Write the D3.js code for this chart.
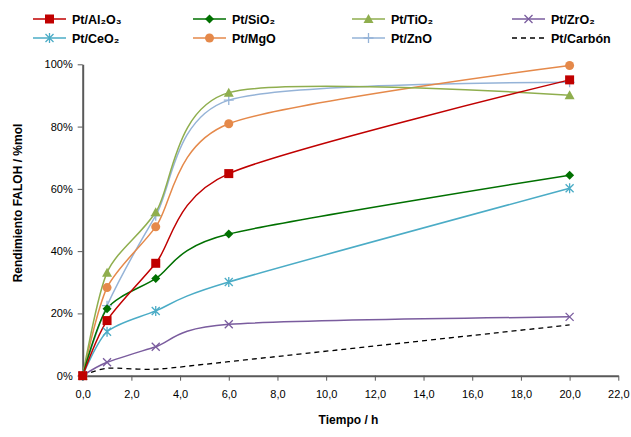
<!DOCTYPE html>
<html>
<head>
<meta charset="utf-8">
<script src="https://cdn.jsdelivr.net/npm/d3@7"></script>
<style>
  body { margin: 0; background: #fff; }
  svg { display: block; font-family: "Liberation Sans", Arial, sans-serif; }
  .axis path, .axis line { stroke: #595959; }
  .axis text { font-size: 11px; fill: #000; }
</style>
</head>
<body>
<div id="chart"></div>
<script>
// --- Data ---
const tiempo = [0, 1, 3, 6, 20];
const names = ["Pt/Al₂O₃", "Pt/SiO₂", "Pt/TiO₂", "Pt/ZrO₂", "Pt/CeO₂", "Pt/MgO", "Pt/ZnO", "Pt/Carbón"];
const al2o3 = [0, 17.7, 36.1, 64.9, 95.0];
const sio2 = [0, 21.5, 31.2, 45.5, 64.4];
const tio2 = [0, 33.1, 52.5, 90.9, 90.1];
const zro2 = [0, 4.3, 9.3, 16.5, 18.9];
const ceo2 = [0, 14.1, 20.8, 30.1, 60.2];
const mgo = [0, 28.3, 47.8, 80.9, 99.6];
const zno = [0, 22.5, 51.4, 88.5, 94.2];
const carbon = [0, 2.4, 2.1, 4.5, 16.3];
const xTicks = d3.range(0, 22.01, 2);
const yTicks = [0, 20, 40, 60, 80, 100];

const colors = ["#C00000", "#007000", "#8FAE4E", "#7A5C9E", "#4BACC6", "#E5894A", "#95B3D7", "#000000"];
const markers = ["square", "diamond", "triangle", "x", "star", "circle", "plus", "none"];
const allValues = [al2o3, sio2, tio2, zro2, ceo2, mgo, zno, carbon];

const series = names.map((n, i) => ({
    name: n, color: colors[i], marker: markers[i],
    points: tiempo.map((t, j) => ({ x: t, y: allValues[i][j] }))
}));

// --- Layout ---
const W = 631, H = 437;
const plot = { left: 82.7, right: 618.3, top: 64.3, bottom: 375.7 };

const svg = d3.select("#chart").append("svg").attr("width", W).attr("height", H);

const x = d3.scaleLinear().domain([0, 22]).range([plot.left, plot.right]);
const y = d3.scaleLinear().domain([0, 100]).range([plot.bottom, plot.top]);

const xAxis = svg.append("g").attr("class", "axis")
    .attr("transform", `translate(0,${plot.bottom})`)
    .call(d3.axisBottom(x).tickValues(xTicks).tickSize(5).tickSizeOuter(0)
        .tickFormat(d => d3.format(".1f")(d).replace(".", ",")));
xAxis.select(".domain").attr("stroke-width", 2);
xAxis.selectAll(".tick text").attr("y", 11).attr("dy", "1.05em");

const yAxis = svg.append("g").attr("class", "axis")
    .attr("transform", `translate(${plot.left},0)`)
    .call(d3.axisLeft(y).tickValues(yTicks).tickSize(5).tickSizeOuter(0).tickFormat(d => d + "%"));
yAxis.select(".domain").attr("stroke-width", 2);
yAxis.selectAll(".tick text").attr("x", -10);

// axis titles
svg.append("text").attr("x", (plot.left + plot.right) / 2 - 2).attr("y", 424)
    .attr("text-anchor", "middle").style("font-size", "12px").style("font-weight", "bold")
    .text("Tiempo / h");
svg.append("text").attr("transform", "translate(21.5,203) rotate(-90)")
    .attr("text-anchor", "middle").style("font-size", "12px").style("font-weight", "bold")
    .text("Rendimiento FALOH / %mol");

// --- Lines ---
const line = d3.line().x(d => x(d.x)).y(d => y(d.y)).curve(d3.curveCardinal.tension(0.2));

const gLines = svg.append("g");
series.slice().reverse().forEach(s => {
    gLines.append("path").attr("d", line(s.points)).attr("fill", "none")
        .attr("stroke", s.color).attr("stroke-width", s.marker === "none" ? 1.3 : 1.5)
        .attr("stroke-dasharray", s.marker === "none" ? "5,4" : null);
});

function drawMarker(g, type, color, cx, cy) {
    if (type === "square") {
        g.append("rect").attr("x", cx - 4.5).attr("y", cy - 4.5).attr("width", 9).attr("height", 9).attr("fill", color);
    } else if (type === "diamond") {
        g.append("path").attr("d", `M${cx},${cy - 4.5}L${cx + 4.5},${cy}L${cx},${cy + 4.5}L${cx - 4.5},${cy}Z`).attr("fill", color);
    } else if (type === "triangle") {
        g.append("path").attr("d", `M${cx},${cy - 5}L${cx + 5},${cy + 4}L${cx - 5},${cy + 4}Z`).attr("fill", color);
    } else if (type === "circle") {
        g.append("circle").attr("cx", cx).attr("cy", cy).attr("r", 4.5).attr("fill", color);
    } else if (type === "x") {
        g.append("path").attr("d", `M${cx - 4},${cy - 4}L${cx + 4},${cy + 4}M${cx - 4},${cy + 4}L${cx + 4},${cy - 4}`)
            .attr("stroke", color).attr("stroke-width", 1.3);
    } else if (type === "star") {
        g.append("path").attr("d", `M${cx - 4},${cy - 4}L${cx + 4},${cy + 4}M${cx - 4},${cy + 4}L${cx + 4},${cy - 4}M${cx},${cy - 5}L${cx},${cy + 5}`)
            .attr("stroke", color).attr("stroke-width", 1.3);
    } else if (type === "plus") {
        g.append("path").attr("d", `M${cx - 5},${cy}L${cx + 5},${cy}M${cx},${cy - 5}L${cx},${cy + 5}`)
            .attr("stroke", color).attr("stroke-width", 1.3);
    }
}

const gMarks = svg.append("g");
series.slice().reverse().forEach(s => {
    s.points.forEach(p => drawMarker(gMarks, s.marker, s.color, x(p.x), y(p.y)));
});

// --- Legend ---
const legend = svg.append("g");
const colX = [33, 193, 352, 512], rowY = [19, 38];
series.forEach((s, i) => {
    const lx = colX[i % 4], ly = rowY[Math.floor(i / 4)];
    const g = legend.append("g");
    g.append("line").attr("x1", lx).attr("x2", lx + 33).attr("y1", ly).attr("y2", ly)
        .attr("stroke", s.color).attr("stroke-width", 1.5)
        .attr("stroke-dasharray", s.marker === "none" ? "5,4" : null);
    drawMarker(g, s.marker, s.color, lx + 16.5, ly);
    g.append("text").attr("x", lx + 39).attr("y", ly + 4.5)
        .style("font-size", "12.5px").style("font-weight", "bold").text(s.name);
});
</script>
</body>
</html>
